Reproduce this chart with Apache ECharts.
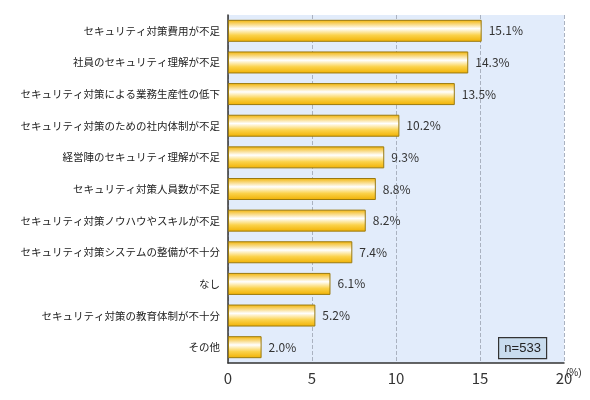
<!DOCTYPE html>
<html>
<head>
<meta charset="UTF-8" />
<script src="https://cdn.jsdelivr.net/npm/echarts@6/dist/echarts.min.js"></script>
<style>
  html, body { margin: 0; padding: 0; background: #fff; }
  #main { width: 590px; height: 400px; }
</style>
</head>
<body>
<div id="main"></div>
<script>
var categories = [
    'セキュリティ対策費用が不足',
    '社員のセキュリティ理解が不足',
    'セキュリティ対策による業務生産性の低下',
    'セキュリティ対策のための社内体制が不足',
    '経営陣のセキュリティ理解が不足',
    'セキュリティ対策人員数が不足',
    'セキュリティ対策ノウハウやスキルが不足',
    'セキュリティ対策システムの整備が不十分',
    'なし',
    'セキュリティ対策の教育体制が不十分',
    'その他'
];
var values = [15.1, 14.3, 13.5, 10.2, 9.3, 8.8, 8.2, 7.4, 6.1, 5.2, 2.0];
var xTicks = [0, 5, 10, 15, 20];

var chart = echarts.init(document.getElementById('main'));

// gradient used for every bar: orange edges, white highlight in the middle
var barFill = new echarts.graphic.LinearGradient(0, 0, 0, 1, [
    { offset: 0, color: '#f2b200' },
    { offset: 0.4, color: '#ffffff' },
    { offset: 0.7, color: '#fbd24a' },
    { offset: 1, color: '#f0b000' }
]);

chart.setOption({
    backgroundColor: '#fff',
    animation: false,
    textStyle: { fontFamily: 'Noto Sans CJK JP' },
    grid: { left: 228, right: 26, top: 15, bottom: 37, backgroundColor: '#e2ecfb', show: true, borderWidth: 0 },
    xAxis: {
        type: 'value', min: 0, max: 20, interval: 5,
        axisLine: { show: true, lineStyle: { color: '#333', width: 1.5 } },
        axisTick: { show: false },
        axisLabel: {
            color: '#333', fontSize: 15, margin: 8,
            formatter: function (v) { return xTicks.indexOf(v) >= 0 ? String(v) : ''; }
        },
        splitLine: { show: true, lineStyle: { color: '#aab2c0', type: 'dashed' } }
    },
    yAxis: {
        type: 'category', data: categories, inverse: true,
        axisLine: { show: true, lineStyle: { color: '#333', width: 1.5 } },
        axisTick: { show: false },
        axisLabel: { color: '#222', fontSize: 10.5, margin: 8 }
    },
    series: [{
        type: 'bar',
        data: values,
        barWidth: 22,
        itemStyle: { color: barFill, borderColor: '#9a7a10', borderWidth: 1 },
        label: {
            show: true, position: 'right', color: '#333', fontSize: 12, distance: 7,
            formatter: function (p) { return p.value.toFixed(1) + '%'; }
        }
    }],
    graphic: [
        { type: 'text', left: 566, top: 368, style: { text: '(%)', fontSize: 10, fill: '#333' } },
        {
            type: 'group', left: 498, top: 337,
            children: [
                { type: 'rect', shape: { x: 0, y: 0, width: 48, height: 21 }, style: { fill: '#c9dcee', stroke: '#333', lineWidth: 1.2 } },
                { type: 'text', style: { x: 24, y: 11, text: 'n=533', fontSize: 13, fill: '#222', align: 'center', verticalAlign: 'middle' } }
            ]
        }
    ]
});
</script>
</body>
</html>
